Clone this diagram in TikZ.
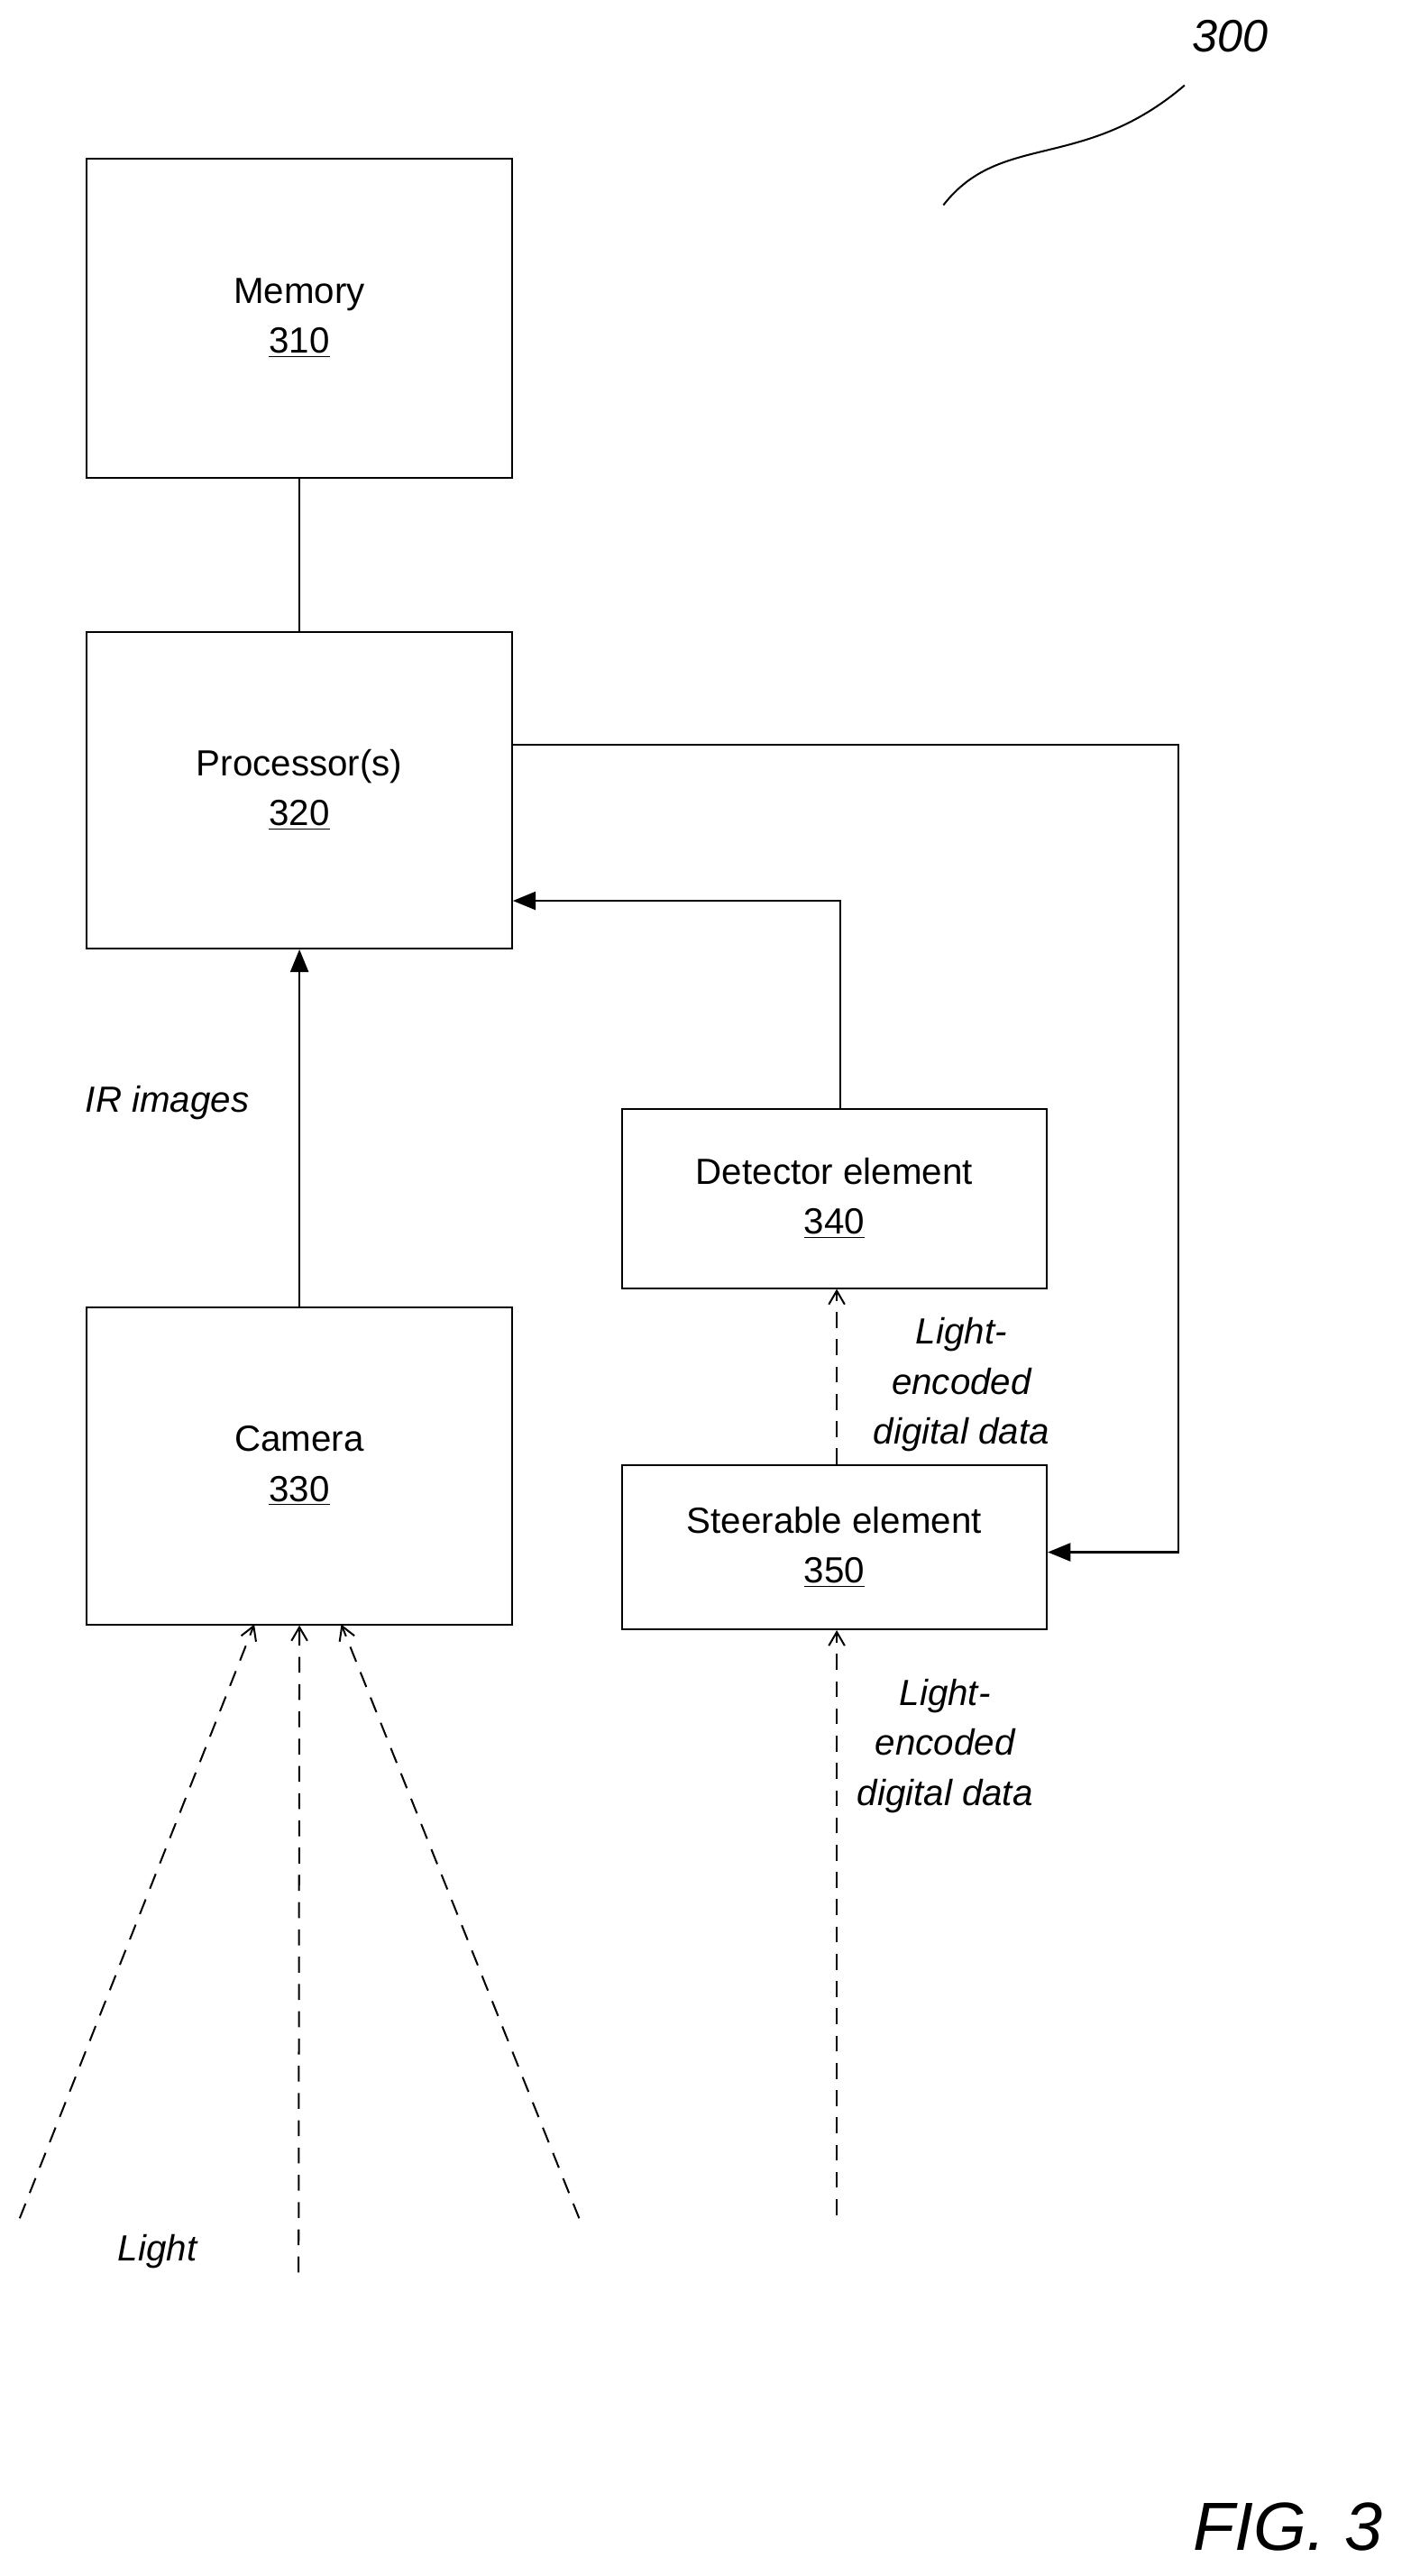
\documentclass[tikz,border=0pt]{standalone}
\usepackage{fontspec}
\setmainfont{Liberation Sans}
\usetikzlibrary{arrows.meta, positioning}

\begin{document}
\begin{tikzpicture}[
  x=0.01in, y=-0.01in,
  box/.style={draw, thick, inner sep=0pt, align=center, font=\fontsize{16}{22}\selectfont},
  lbl/.style={align=center, font=\fontsize{16}{22}\selectfont\itshape},
  arr/.style={-{Triangle[length=10pt, width=8pt]}, thick},
  darr/.style={-{Straight Barb[length=6pt, width=7pt]}, thick, dash pattern=on 7pt off 5pt}
]
\useasboundingbox (0,0) rectangle (860,1570);

% boxes
\node[box, minimum width=2.59in, minimum height=1.94in] (mem) at (182.5,194) {Memory\\\underline{310}};
\node[box, minimum width=2.59in, minimum height=1.93in] (proc) at (182.5,481.5) {Processor(s)\\\underline{320}};
\node[box, minimum width=2.59in, minimum height=1.93in] (cam) at (182.5,893.5) {Camera\\\underline{330}};
\node[box, minimum width=2.59in, minimum height=1.09in] (det) at (508.5,730.5) {Detector element\\\underline{340}};
\node[box, minimum width=2.59in, minimum height=1.00in] (steer) at (508.5,943) {Steerable element\\\underline{350}};

% connections
\draw[thick] (mem) -- (proc);
\draw[arr] (cam) -- (proc);
\node[lbl] (irlbl) at (102,672) {IR images};
\draw[arr] (proc.east |- 0,454) -| (718,946) -- (steer.east |- 0,946);
\draw[arr] (det.north -| 512,0) |- (proc.east |- 0,549);
\draw[darr] (steer.north -| 510,0) -- (det.south -| 510,0);
\node[lbl] (enc1) at (586,844) {Light-\\encoded\\digital data};
\coordinate (lightin) at (510,1350);
\draw[darr] (lightin) -- (steer.south -| 510,0);
\node[lbl] (enc2) at (576,1064) {Light-\\encoded\\digital data};

% light into camera
\coordinate (l1) at (12,1352);
\coordinate (l2) at (182,1385);
\coordinate (l3) at (353,1352);
\draw[darr] (l1) -- (155,990);
\draw[darr] (l2) -- (cam.south);
\draw[darr] (l3) -- (208,990);
\node[lbl] (lightlbl) at (96,1372) {Light};

% reference numerals
\node[font=\fontsize{20}{24}\selectfont\itshape] (ref) at (750,22) {300};
\draw[thick] (575,125) .. controls (610,80) and (660,105) .. (722,52);
\node[font=\fontsize{30}{36}\selectfont\itshape] (fig) at (785,1540) {FIG. 3};
\end{tikzpicture}
\end{document}
